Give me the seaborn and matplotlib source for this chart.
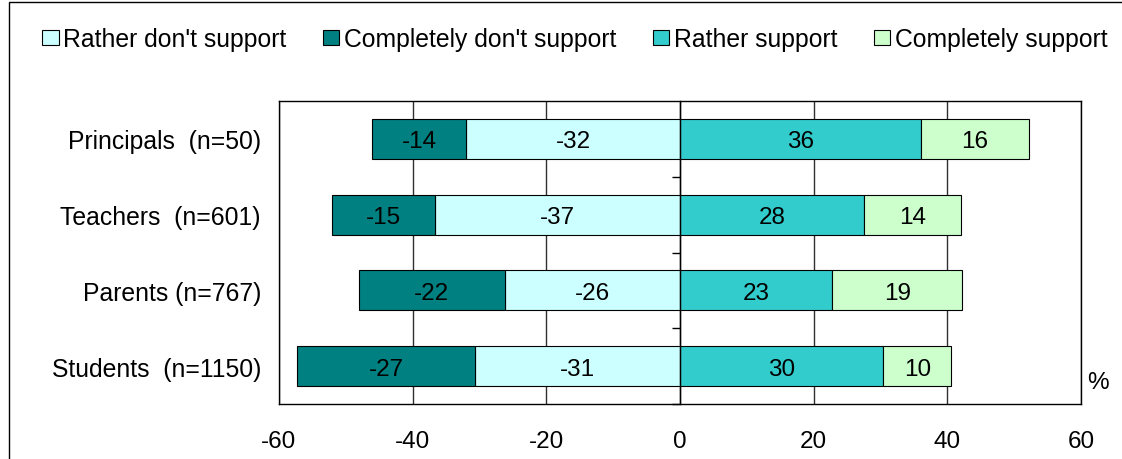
import pandas as pd
import matplotlib.pyplot as plt
import matplotlib.patches as mpatches
import seaborn as sns

# Survey groups (top to bottom) and shares in %
groups = ['Principals  (n=50)', 'Teachers  (n=601)', 'Parents (n=767)', 'Students  (n=1150)']
rather_dont = [-32.0, -36.6, -26.2, -30.6]
completely_dont = [-14.1, -15.4, -21.9, -26.7]
rather_sup = [36.0, 27.6, 22.8, 30.4]
completely_sup = [16.2, 14.4, 19.4, 10.2]
x_ticks = [-60, -40, -20, 0, 20, 40, 60]

series_names = ["Rather don't support", "Completely don't support", "Rather support", "Completely support"]
colors = ['#CCFFFF', '#008080', '#33CCCC', '#CCFFCC']

df = pd.DataFrame({
    'group': groups,
    'rd': rather_dont,
    'cd': completely_dont,
    'rs': rather_sup,
    'cs': completely_sup,
})
# where each segment starts
df['rd_left'] = 0.0
df['cd_left'] = df['rd']
df['rs_left'] = 0.0
df['cs_left'] = df['rs']

sns.set_style('white')
plt.rcParams['font.family'] = ['Liberation Sans', 'DejaVu Sans']
plt.rcParams['font.size'] = 17
plt.rcParams.update({'text.color': 'black', 'axes.labelcolor': 'black',
                     'xtick.color': 'black', 'ytick.color': 'black'})

fig = plt.figure(figsize=(11.22, 4.6), dpi=100)
ax = fig.add_axes([279 / 1122, 1 - 405 / 460, (1081 - 279) / 1122, (405 - 102) / 460])

for col, name, colr in zip(['rd', 'cd', 'rs', 'cs'], series_names, colors):
    sns.barplot(data=df, x=col, y='group', order=groups, orient='h', ax=ax,
                color=colr, saturation=1, width=0.53, errorbar=None,
                left=df[col + '_left'].tolist(), edgecolor='black', linewidth=0.8,
                label=name)

# value labels in the middle of each segment
for cont in ax.containers:
    vals = [p.get_width() for p in cont.patches]
    texts = ax.bar_label(cont, labels=[f'{v:.0f}' for v in vals], label_type='center',
                         fontsize=17.5, color='black')
    for t in texts:
        t.set_va('center_baseline')

ax.set_xlim(-60, 60)
ax.set_ylim(3.5, -0.5)
ax.set_xticks(x_ticks)
ax.set_xticklabels([str(t) for t in x_ticks], fontsize=17.5)
ax.set_yticks(range(len(groups)))
ax.set_yticklabels(groups, fontsize=17.8)
ax.set_xlabel('')
ax.set_ylabel('')
ax.grid(axis='x', color='#303030', linewidth=1)
ax.set_axisbelow(True)
ax.tick_params(axis='x', direction='out', length=6, width=1, pad=13, colors='black')
ax.tick_params(axis='y', length=0, pad=13)
for s in ax.spines.values():
    s.set_visible(True)
    s.set_color('black')
    s.set_linewidth(1)
ax.legend().remove()

# category axis crossing at zero, with tick marks between the groups
ax2 = ax.twinx()
ax2.set_ylim(ax.get_ylim())
for side in ['top', 'right', 'bottom']:
    ax2.spines[side].set_visible(False)
ax2.spines['left'].set_position(('data', 0))
ax2.spines['left'].set_color('black')
ax2.spines['left'].set_linewidth(1)
ax2.yaxis.set_ticks_position('left')
ax2.set_yticks([0.5, 1.5, 2.5, 3.5])
ax2.set_yticklabels([])
ax2.tick_params(axis='y', direction='out', length=6, width=1, colors='black')

# legend on top, one row
handles = [mpatches.Patch(facecolor=c, edgecolor='black', linewidth=0.8, label=n)
           for n, c in zip(series_names, colors)]
fig.legend(handles=handles, loc='center', bbox_to_anchor=(575 / 1122, 1 - 40 / 460),
           ncol=4, frameon=False, fontsize=17.8, handlelength=0.65, handleheight=0.55,
           handletextpad=0.18, columnspacing=1.5, borderpad=0, borderaxespad=0)

fig.text(1098 / 1122, 1 - 383 / 460, '%', ha='center', va='center', fontsize=17.5)

# outer chart border
fig.patches.append(mpatches.Rectangle((9 / 1122, -0.1), 1.2, 1 - 3 / 460 + 0.1,
                                      transform=fig.transFigure, fill=False,
                                      edgecolor='black', linewidth=1))

fig.savefig('out.png', dpi=100)
